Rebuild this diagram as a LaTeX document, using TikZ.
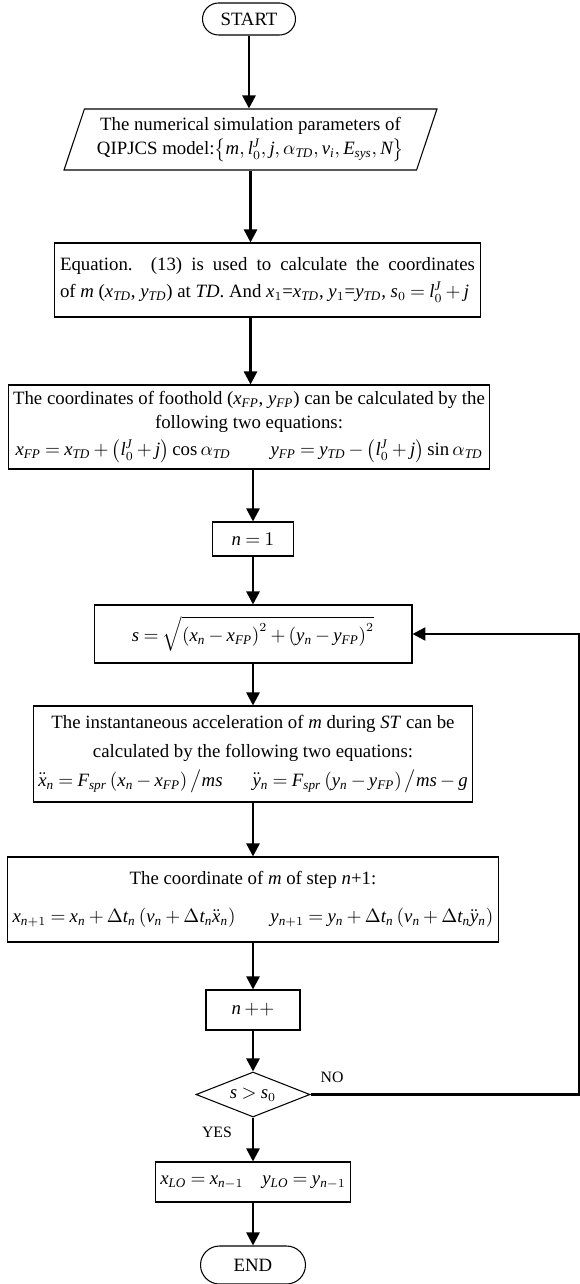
\documentclass[tikz,border=0pt]{standalone}
\usepackage{amsmath}
\usepackage{fontspec}
\setmainfont{Liberation Serif}[NFSSFamily=libser]
\DeclareSymbolFont{tletters}{TU}{libser}{m}{it}
\def\setmathletters#1{\ifx#1\relax\else\DeclareMathSymbol{#1}{\mathalpha}{tletters}{`#1}\expandafter\setmathletters\fi}
\setmathletters abcdefghijklmnopqrstuvwxyzABCDEFGHIJKLMNOPQRSTUVWXYZ\relax
\newcommand\boxfont{\fontsize{10.7}{13.5}\selectfont\medmuskip=3mu\relax\thickmuskip=4mu\relax}
\usetikzlibrary{positioning, shapes.geometric, arrows.meta}
\tikzset{
    base/.style={draw, line width=0.6pt, align=center, inner xsep=0.1cm, inner ysep=0pt, font=\boxfont},
    box/.style={base, rectangle},
    termbox/.style={base, rectangle, rounded corners=0.32cm},
    iobox/.style={base, trapezium, trapezium left angle=65, trapezium right angle=115, trapezium stretches body},
    decbox/.style={base, diamond, aspect=2.5, inner sep=0pt},
    arrow/.style={-{Triangle[length=0.26cm, width=0.26cm]}, line width=1.4pt},
    line/.style={draw, line width=1.4pt},
    ynlabel/.style={font=\fontsize{9}{11}\selectfont}
}

\begin{document}
\begin{tikzpicture}[x=0.02cm, y=-0.02cm]
    \useasboundingbox (0,0) rectangle (579,1284);

    % Start and input
    \node[termbox, minimum width=1.86cm, minimum height=0.64cm] (start) at (249,19) {START};
    \node[iobox, minimum width=7.46cm, minimum height=1.22cm] (param) at (250.5,139.5) {The numerical simulation parameters of\\QIPJCS model:$\left\{m, l_0^J, j, \alpha_{TD}, v_i, E_{sys}, N\right\}$};

    % Initial coordinates
    \node[box, minimum width=8.54cm, minimum height=1.48cm, align=left] (eqn) at (267.5,280) {\makebox[8.3cm][s]{Equation.~~(13) is used to calculate the coordinates}\\[2pt] of $m$ ($x_{TD}$, $y_{TD}$) at \textit{TD}. And $x_1$=$x_{TD}$, $y_1$=$y_{TD}$, $s_0 = l_0^J + j$};
    \node[box, minimum width=9.52cm, minimum height=1.68cm] (foot) at (249,427) {The coordinates of foothold ($x_{FP}$, $y_{FP}$) can be calculated by the\\ following two equations:\\[2pt] $x_{FP} = x_{TD} + \left(l_0^J + j\right)\cos\alpha_{TD}$\hspace{0.8cm}$y_{FP} = y_{TD} - \left(l_0^J + j\right)\sin\alpha_{TD}$};
    \node[box, minimum width=1.62cm, minimum height=0.68cm] (ninit) at (253,539) {$n=1$};

    % Loop body
    \node[box, minimum width=6.36cm, minimum height=1.16cm] (dist) at (253,634) {$s=\sqrt{\left(x_n - x_{FP}\right)^2 + \left(y_n - y_{FP}\right)^2}$};
    \node[box, minimum width=8.6cm, minimum height=1.92cm] (accel) at (253,754) {The instantaneous acceleration of $m$ during \textit{ST} can be\\[3pt] calculated by the following two equations:\\[3pt] $\ddot{x}_n = F_{spr}\left(x_n - x_{FP}\right)\big/ms$\hspace{0.6cm}$\ddot{y}_n = F_{spr}\left(y_n - y_{FP}\right)\big/ms - g$};
    \node[box, minimum width=9.82cm, minimum height=1.7cm] (nstep) at (253,899.5) {The coordinate of $m$ of step $n$+1:\\[8pt] $x_{n+1} = x_n + \Delta t_n\left(v_n + \Delta t_n\ddot{x}_n\right)$\hspace{0.7cm}$y_{n+1} = y_n + \Delta t_n\left(v_n + \Delta t_n\ddot{y}_n\right)$};
    \node[box, minimum width=1.88cm, minimum height=0.8cm] (ninc) at (253,1010) {$n\,{+}{+}$};
    \node[decbox, minimum width=2.28cm, minimum height=0.9cm] (check) at (253,1094.5) {$s>s_0$};

    % Lift-off and end
    \node[box, minimum width=3.66cm, minimum height=0.8cm] (lift) at (253,1182) {$x_{LO} = x_{n-1}$\quad$y_{LO} = y_{n-1}$};
    \node[termbox, rounded corners=0.38cm, minimum width=2.1cm, minimum height=0.76cm] (stop) at (253,1265) {END};

    \node[ynlabel] (no) at (332,1077) {NO};
    \node[ynlabel] (yes) at (217,1132) {YES};

    % Arrows
    \draw[arrow] (start.south) -- (start.south |- param.north);
    \draw[arrow] (param.south) -- (param.south |- eqn.north);
    \draw[arrow] (param.south |- eqn.south) -- (param.south |- foot.north);
    \draw[arrow] (foot.south -| ninit) -- (ninit.north);
    \draw[arrow] (ninit) -- (dist);
    \draw[arrow] (dist) -- (accel);
    \draw[arrow] (accel) -- (nstep);
    \draw[arrow] (nstep) -- (ninc);
    \draw[arrow] (ninc) -- (check);
    \draw[arrow] (check) -- (lift);
    \draw[arrow] (lift) -- (stop);

    % Loop back
    \coordinate (back) at (579.5,1094.5);
    \draw[arrow] (check.east) -- (back) |- (dist.east);
\end{tikzpicture}
\end{document}
